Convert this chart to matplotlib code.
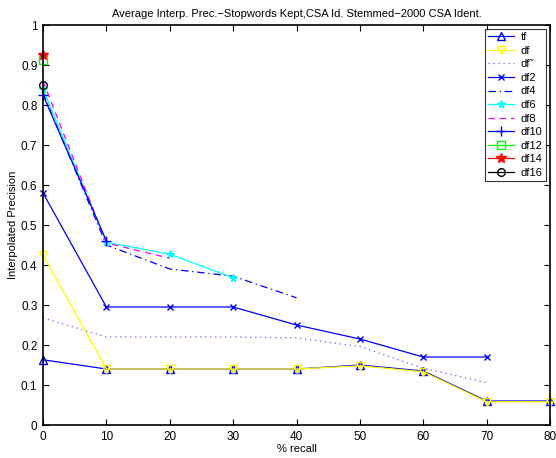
import matplotlib
matplotlib.use('Agg')
import matplotlib.pyplot as plt

recall = [0, 10, 20, 30, 40, 50, 60, 70, 80]

tf = [0.163, 0.140, 0.140, 0.140, 0.140, 0.150, 0.135, 0.060, 0.060]
df = [0.425, 0.140, 0.140, 0.140, 0.140, 0.148, 0.133, 0.058, 0.058]
df_tilde = [0.268, 0.220, 0.220, 0.220, 0.218, 0.196, 0.142, 0.106]
df2 = [0.580, 0.295, 0.295, 0.295, 0.250, 0.215, 0.170, 0.170]
df4 = [0.830, 0.450, 0.390, 0.372, 0.318]
df6 = [0.840, 0.457, 0.427, 0.368]
df8 = [0.860, 0.455, 0.417]
df10 = [0.825, 0.460]
df12 = [0.912]
df14 = [0.924]
df16 = [0.850]

plt.rcParams['font.family'] = ['Liberation Sans', 'DejaVu Sans']

fig = plt.figure(figsize=(5.56, 4.58), dpi=100)
ax = fig.add_axes([43 / 556, 1 - 425 / 458, 507 / 556, 400 / 458])

B = (0, 0, 1)
Y = (1, 1, 0)
C = (0, 1, 1)
M = (1, 0, 1)
G = (0, 1, 0)
R = (1, 0, 0)
K = (0, 0, 0)

lw = 0.9
ms = 5.5
kw = dict(lw=lw, clip_on=False)
ax.plot(recall[:len(tf)], tf, '-^', color=B, ms=ms, mfc='none', label='tf', **kw)
ax.plot(recall[:len(df)], df, '-v', color=Y, ms=ms, mfc='none', label='df', **kw)
ax.plot(recall[:len(df_tilde)], df_tilde, color=(0.4, 0.4, 1), ls=(0, (1, 3)), label='df\u02dc', **kw)
ax.plot(recall[:len(df2)], df2, '-x', color=B, ms=4.5, label='df2', **kw)
ax.plot(recall[:len(df4)], df4, color=B, ls=(0, (6, 3, 1, 3)), label='df4', **kw)
ax.plot(recall[:len(df6)], df6, '-*', color=C, ms=ms, label='df6', **kw)
ax.plot(recall[:len(df8)], df8, color=M, ls=(0, (5, 4)), label='df8', **kw)
ax.plot(recall[:len(df10)], df10, '-+', color=B, ms=7, label='df10', **kw)
ax.plot(recall[:len(df12)], df12, '-s', color=G, ms=ms, mfc='none', label='df12', **kw)
ax.plot(recall[:len(df14)], df14, '-*', color=R, ms=7.5, label='df14', **kw)
ax.plot(recall[:len(df16)], df16, '-o', color=K, ms=ms, mfc='none', label='df16', **kw)

ax.set_xlim(0, 80)
ax.set_ylim(0, 1)
ax.set_xticks(range(0, 81, 10))
ax.set_yticks([i / 10 for i in range(11)])
ax.set_yticklabels(['0', '0.1', '0.2', '0.3', '0.4', '0.5', '0.6', '0.7', '0.8', '0.9', '1'])
ax.tick_params(direction='in', labelsize=8.5, top=True, right=True, length=4, pad=4)
for s in ax.spines.values():
    s.set_linewidth(1.2)

ax.set_xlabel('% recall', fontsize=8, labelpad=1)
ax.set_ylabel('Interpolated Precision', fontsize=8, labelpad=2)
ax.set_title('Average Interp. Prec.\u2212Stopwords Kept,CSA Id. Stemmed\u22122000 CSA Ident.',
             fontsize=8, pad=6)

leg = ax.legend(loc='upper right', fontsize=8, frameon=True, fancybox=False,
                edgecolor='black', borderpad=0.25, labelspacing=0.32,
                handlelength=2.4, handletextpad=0.6, borderaxespad=0.4)
leg.get_frame().set_linewidth(0.8)

fig.savefig('out.png', dpi=100)
